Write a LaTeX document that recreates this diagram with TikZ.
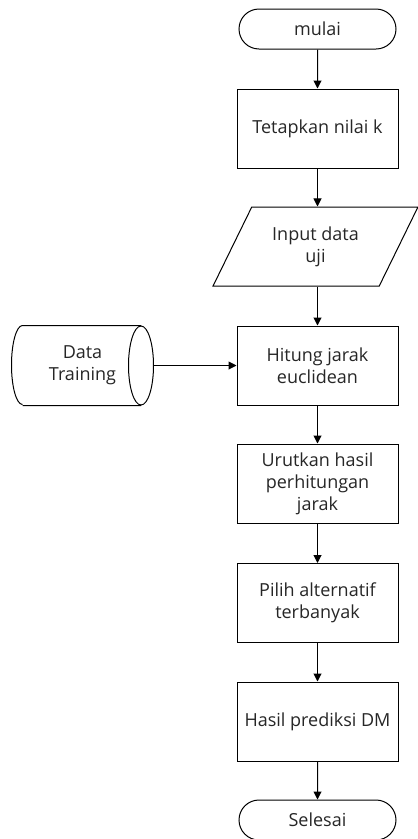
\documentclass[tikz,border=0pt]{standalone}
\usepackage{fontspec}
\setmainfont{Open Sans}
\usetikzlibrary{arrows.meta,shapes.geometric,shapes.misc}
\definecolor{ink}{HTML}{000000}
\definecolor{txt}{HTML}{262626}
\tikzset{
  base/.style={draw=ink, line width=1pt, text=txt, font=\fontsize{18}{22}\selectfont, align=center, inner sep=2pt},
  term/.style={base, rounded rectangle, minimum width=161pt, minimum height=40pt},
  proc/.style={base, rectangle, minimum width=161pt, minimum height=79pt},
  io/.style={base, trapezium, trapezium left angle=58, trapezium right angle=122, trapezium stretches=true, minimum width=205pt, minimum height=79pt},
  store/.style={base, draw=none, rectangle, minimum width=141pt, minimum height=79pt},
  flow/.style={draw=ink, line width=1pt, -{Triangle[length=8pt,width=8pt]}},
}

\begin{document}
\begin{tikzpicture}[x=1pt,y=-1pt]
\useasboundingbox (0,0) rectangle (418,839);
\node[term] (mulai) at (317.5,29) {mulai};
\node[proc] (tetap) at (317.5,128.5) {Tetapkan nilai k};
\node[io] (input) at (315.5,246.5) {Input data\\uji};
\node[proc] (hitung) at (317.5,365.5) {Hitung jarak\\euclidean};
\node[proc] (urut) at (317.5,483.5) {Urutkan hasil\\perhitungan\\jarak};
\node[proc] (pilih) at (317.5,603) {Pilih alternatif\\terbanyak};
\node[proc] (hasil) at (317.5,721.5) {Hasil prediksi DM};
\node[term] (selesai) at (317.5,820) {Selesai};

% data store
\node[store] (train) at (82.5,365.5) {Data\\Training};
\draw[base] ([xshift=11pt]train.north west) -- ([xshift=-12.5pt]train.north east)
  ([xshift=11pt]train.south west) -- ([xshift=-12.5pt]train.south east)
  ([xshift=11pt]train.north west) arc[start angle=90, end angle=270, x radius=11pt, y radius=39.5pt];
\draw[base] ([xshift=-12.5pt]train.east) ellipse[x radius=12.5pt, y radius=39.5pt];

\draw[flow] (mulai) -- (tetap);
\draw[flow] (tetap) -- (tetap |- input.north);
\draw[flow] (tetap |- input.south) -- (hitung);
\draw[flow] (train) -- (hitung);
\draw[flow] (hitung) -- (urut);
\draw[flow] (urut) -- (pilih);
\draw[flow] (pilih) -- (hasil);
\draw[flow] (hasil) -- (selesai);
\end{tikzpicture}
\end{document}
